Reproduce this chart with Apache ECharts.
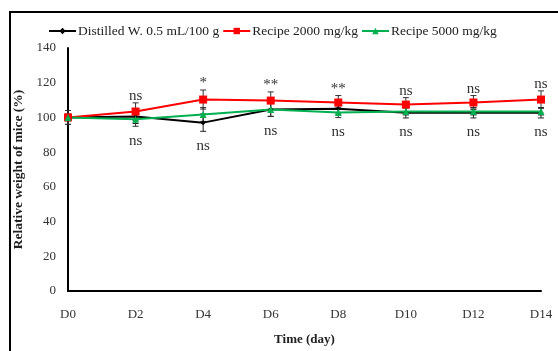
<!DOCTYPE html>
<html><head><meta charset="utf-8">
<script src="https://cdn.jsdelivr.net/npm/echarts@6/dist/echarts.min.js"></script>
<style>html,body{margin:0;padding:0;background:#fff}#c{width:558px;height:351px}</style>
</head><body><div id="c"></div>
<script>
const categories = ['D0','D2','D4','D6','D8','D10','D12','D14'];
const distilled = [100, 100.5, 97, 104.6, 105, 102.7, 102.7, 102.7];
const distilledSD = [4, 4, 5, 4, 3, 3, 3, 3];
const recipe2000 = [100, 103.4, 110.3, 109.7, 108.6, 107.4, 108.6, 110.3];
const recipe2000SD = [2, 5, 5.5, 5, 4, 4, 4, 5];
const recipe5000 = [100, 98.9, 101.7, 104.6, 102.9, 103.4, 103.4, 103.4];
const recipe5000SD = [4, 4, 4, 4, 3, 2, 2, 2];
const upperMarks = ['', 'ns', '*', '**', '**', 'ns', 'ns', 'ns'];
const lowerMarks = ['', 'ns', 'ns', 'ns', 'ns', 'ns', 'ns', 'ns'];
const yTicks = [0, 20, 40, 60, 80, 100, 120, 140];

const FONT = '"Liberation Serif", "DejaVu Serif", serif';
const chart = echarts.init(document.getElementById('c'), null, {renderer: 'canvas'});

function errSeries(name, vals, sd, color) {
  return {
    type: 'custom', name: name + ' err', silent: true, z: 3,
    data: vals.map((v, i) => [i, v, sd[i]]),
    renderItem: function (params, api) {
      const x = api.value(0), v = api.value(1), s = api.value(2);
      const hi = api.coord([x, v + s]), lo = api.coord([x, v - s]);
      const w = 3;
      return {type: 'group', children: [
        {type: 'line', shape: {x1: hi[0], y1: hi[1], x2: lo[0], y2: lo[1]}, style: {stroke: color, lineWidth: 1}},
        {type: 'line', shape: {x1: hi[0]-w, y1: hi[1], x2: hi[0]+w, y2: hi[1]}, style: {stroke: color, lineWidth: 1}},
        {type: 'line', shape: {x1: lo[0]-w, y1: lo[1], x2: lo[0]+w, y2: lo[1]}, style: {stroke: color, lineWidth: 1}}
      ]};
    }
  };
}

const upperData = categories.map((c, i) => [i, recipe2000[i] + recipe2000SD[i], upperMarks[i]]);
const lowerData = categories.map((c, i) => {
  const a = distilled[i] - distilledSD[i], b = recipe5000[i] - recipe5000SD[i];
  return [i, Math.min(a, b), lowerMarks[i]];
});

function textSeries(data, above) {
  return {
    type: 'custom', silent: true, z: 5,
    data: data,
    renderItem: function (params, api) {
      const p = api.coord([api.value(0), api.value(1)]);
      const t = data[params.dataIndex][2];
      return {type: 'text', x: p[0], y: above ? p[1] + 1 : p[1] + 7,
        style: {text: t, fill: '#333', font: '15px ' + FONT, align: 'center', verticalAlign: above ? 'bottom' : 'top'}};
    }
  };
}

chart.setOption({
  animation: false,
  backgroundColor: '#fff',
  graphic: [{type: 'rect', shape: {x: 10, y: 12, width: 560, height: 350}, style: {fill: 'none', stroke: '#000', lineWidth: 2}, z: 100}],
  legend: {
    top: 19, left: 43, itemWidth: 27, itemHeight: 8, itemGap: 3,
    textStyle: {fontFamily: FONT, fontSize: 13.5, color: '#222', padding: [0, 0, 0, -3]},
    data: ['Distilled W. 0.5 mL/100 g', 'Recipe 2000 mg/kg', 'Recipe 5000 mg/kg']
  },
  grid: {left: 68, right: 17, top: 48, bottom: 58, containLabel: false},
  xAxis: {
    type: 'category', data: categories, boundaryGap: false,
    axisLine: {lineStyle: {color: '#000', width: 2}},
    axisTick: {show: false},
    axisLabel: {fontFamily: FONT, fontSize: 13, color: '#333', margin: 17},
    name: 'Time (day)', nameLocation: 'middle', nameGap: 42,
    nameTextStyle: {fontFamily: FONT, fontSize: 13, fontWeight: 'bold', color: '#222'}
  },
  yAxis: {
    type: 'value', min: 0, max: 140, interval: 20,
    axisLine: {show: true, lineStyle: {color: '#000', width: 2}},
    axisTick: {show: false}, splitLine: {show: false},
    axisLabel: {fontFamily: FONT, fontSize: 13, color: '#333', margin: 12,
      formatter: v => yTicks.includes(v) ? String(v) : ''},
    name: 'Relative weight of mice (%)', nameLocation: 'middle', nameGap: 36,
    nameTextStyle: {fontFamily: FONT, fontSize: 13.5, fontWeight: 'bold', color: '#222'}
  },
  series: [
    errSeries('d', distilled, distilledSD, '#222'),
    errSeries('r', recipe2000, recipe2000SD, '#333'),
    errSeries('g', recipe5000, recipe5000SD, '#333'),
    {name: 'Distilled W. 0.5 mL/100 g', type: 'line', data: distilled, color: '#000',
      symbol: 'diamond', symbolSize: 5, lineStyle: {width: 2}, z: 4},
    {name: 'Recipe 2000 mg/kg', type: 'line', data: recipe2000, color: '#ff0000',
      symbol: 'rect', symbolSize: 8, lineStyle: {width: 2}, z: 4},
    {name: 'Recipe 5000 mg/kg', type: 'line', data: recipe5000, color: '#00b050',
      symbol: 'triangle', symbolSize: 7, lineStyle: {width: 2}, z: 4},
    textSeries(upperData, true),
    textSeries(lowerData, false)
  ]
});
</script></body></html>
